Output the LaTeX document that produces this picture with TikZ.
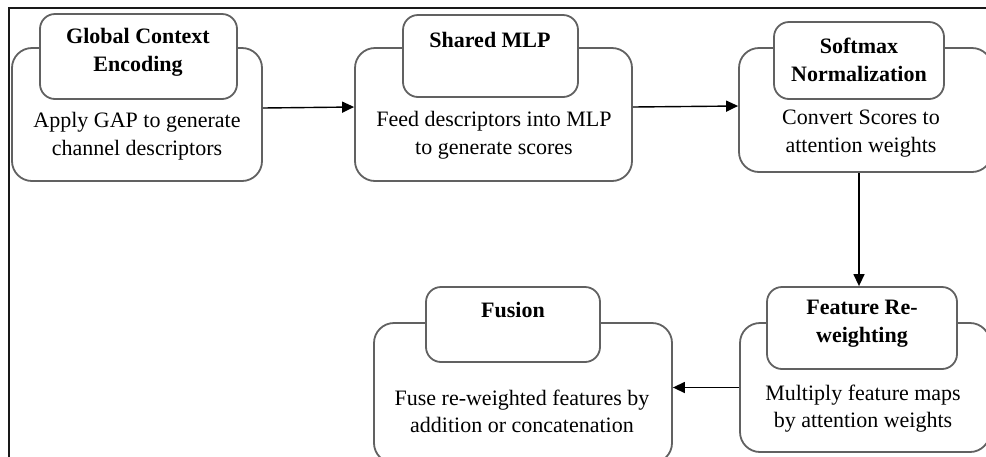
\documentclass[tikz,border=0pt]{standalone}
\usepackage{fontspec}
\setmainfont{Liberation Serif}
\usetikzlibrary{arrows.meta}
\begin{document}
\begin{tikzpicture}[x=1pt,y=-1pt,
  outerbox/.style={draw=black!62, line width=1.8pt, rounded corners=20pt, fill=white, inner sep=0pt},
  headbox/.style={draw=black!62, line width=1.8pt, rounded corners=15pt, fill=white, inner sep=0pt},
  ttl/.style={font=\fontsize{22}{28}\selectfont\bfseries, align=center, inner sep=0pt},
  body/.style={font=\fontsize{22}{27.5}\selectfont, align=center, inner sep=0pt},
  arr/.style={draw=black, line width=1.4pt, -{Triangle[length=12pt,width=11pt]}}]
\useasboundingbox (0,0) rectangle (986,456);
\begin{scope}
\clip (0,0) rectangle (986,456);
\fill[white] (0,0) rectangle (986,456);
% frame
\draw[line width=2.4pt, black!90] (9,460) -- (9,8) -- (990,8);
% boxes
\node[outerbox, minimum width=250pt, minimum height=133pt] (b1) at (137,114.5) {};
\node[headbox, minimum width=197pt, minimum height=85pt] (h1) at (138.5,56.5) {};
\node[outerbox, minimum width=277pt, minimum height=133pt] (b2) at (493.5,114.5) {};
\node[headbox, minimum width=175pt, minimum height=82pt] (h2) at (490.5,56) {};
\node[outerbox, minimum width=253pt, minimum height=124pt] (b3) at (865.5,110) {};
\node[headbox, minimum width=170pt, minimum height=77pt] (h3) at (859,60.5) {};
\node[outerbox, minimum width=250pt, minimum height=129pt] (b4) at (865,387.5) {};
\node[headbox, minimum width=190pt, minimum height=82pt] (h4) at (862,328) {};
\node[outerbox, minimum width=298pt, minimum height=140pt] (b5) at (523,393) {};
\node[headbox, minimum width=174pt, minimum height=75pt] (h5) at (513,324.5) {};
% titles
\node[ttl] (t1) at (138,52) {Global Context\\Encoding};
\node[ttl] (t2) at (490,40) {Shared MLP};
\node[ttl] (t3) at (859,60) {Softmax\\Normalization};
\node[ttl] (t4) at (862,324) {Feature Re-\\weighting};
\node[ttl] (t5) at (513,310) {Fusion};
% bodies
\node[body] (d1) at (137,136) {Apply GAP to generate\\channel descriptors};
\node[body] (d2) at (494,135) {Feed descriptors into MLP\\to generate scores};
\node[body] (d3) at (861,133.5) {Convert Scores to\\attention weights};
\node[body] (d4) at (863,408.5) {Multiply feature maps\\by attention weights};
\node[body] (d5) at (522,411.5) {Fuse re-weighted features by\\addition or concatenation};
% arrows
\draw[arr] ([yshift=6.5pt]b1.east) -- ([yshift=7.5pt]b2.west);
\draw[arr] ([yshift=7.5pt]b2.east) -- ([yshift=4pt]b3.west);
\draw[arr] ([xshift=-3pt]b3.south -| h4.north) -- ([xshift=-3pt]h4.north);
\draw[arr] (b4.west) -- (b4.west -| b5.east);
\end{scope}
\end{tikzpicture}
\end{document}
